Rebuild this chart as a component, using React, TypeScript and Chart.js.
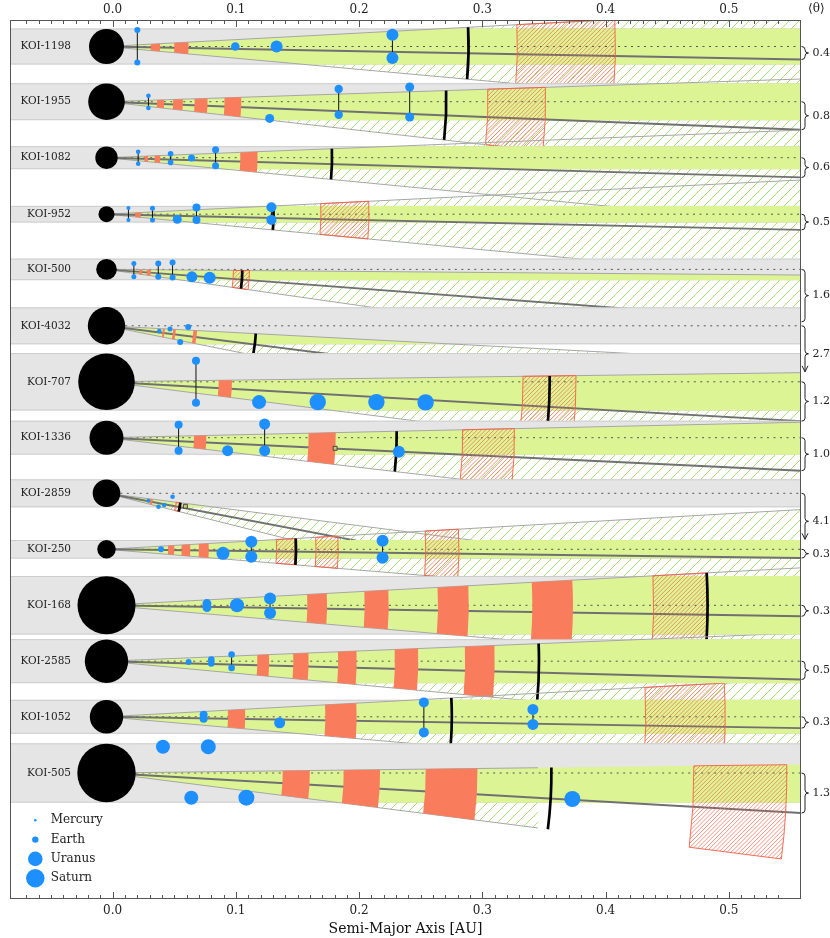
import { useEffect, useRef } from 'react';
import { Chart, registerables } from 'chart.js';

Chart.register(...registerables);

const FONT = "'DejaVu Serif', 'Liberation Serif', serif";

// ---------------- data ----------------
const SYSTEMS = ['KOI-1198', 'KOI-1955', 'KOI-1082', 'KOI-952', 'KOI-500', 'KOI-4032', 'KOI-707', 'KOI-1336', 'KOI-2859', 'KOI-250', 'KOI-168', 'KOI-2585', 'KOI-1052', 'KOI-505'];
const THETA = ['0.4', '0.8', '0.6', '0.5', '1.6', '2.7', '1.2', '1.0', '4.1', '0.3', '0.3', '0.5', '0.3', '1.3'];
const STAR_SIZE = [17.5, 18.3, 11.2, 8, 10.3, 18.7, 28.3, 17, 13.8, 9.2, 29, 21.7, 16.7, 29.2];
const PLANE_TILT = [23.1, 49.7, 35, 27.9, 93, 156, 69.8, 58.6, 234, 15.5, 19.5, 32.5, 20.1, 71];
const PLANE_SPREAD = [88.6, 90, 84, 88.6, 83, 91, 86, 86, 76, 86, 86, 82.5, 87.4, 86];
const WEDGE_REACH: (number | null)[] = [null, null, null, null, null, null, null, null, null, null, null, null, null, 0.345];

// planets: [semi-major axis AU, vertical offset, size]
const PLANETS: number[][][] = [
  [[0.020, -16.5, 3], [0.020, 16, 3], [0.0995, 0, 4.3], [0.133, 0, 6], [0.227, -11.7, 6], [0.227, 11.6, 6]],
  [[0.029, -6, 2.3], [0.029, 6.3, 2.3], [0.1274, 16.7, 4.5], [0.1834, -12.7, 4.2], [0.1834, 13, 4.2], [0.241, -14.7, 4.5], [0.241, 15.3, 4.5]],
  [[0.0207, -6, 2.3], [0.0207, 6, 2.3], [0.047, -4, 2.8], [0.047, 4.7, 2.8], [0.064, 0.3, 3.5], [0.0835, -8, 3.5], [0.0835, 8, 3.5]],
  [[0.0128, -6.3, 2], [0.0128, 5.7, 2], [0.0323, -6, 2.5], [0.0323, 5.7, 2.5], [0.0524, 5, 4.5], [0.068, -6.6, 4], [0.068, 5.7, 4], [0.1288, -7, 5], [0.1288, 5.7, 5]],
  [[0.0172, -6, 2.5], [0.0172, 7.4, 2.5], [0.037, -6, 3], [0.037, 7.4, 3], [0.0486, -7, 3], [0.0486, 8, 3], [0.0643, 7.4, 5.5], [0.0787, 8.4, 6]],
  [[0.0378, 5.3, 2.3], [0.0465, 3.3, 2.5], [0.0548, 16.3, 3], [0.0613, 1.3, 3]],
  [[0.0676, -21, 4], [0.0676, 21, 4], [0.1188, 20.3, 7], [0.1664, 20.3, 8.2], [0.214, 20.3, 8.2], [0.2539, 20.6, 8.2]],
  [[0.0535, -13, 4], [0.0535, 13, 4], [0.0933, 13, 5.5], [0.1233, -13.7, 5.5], [0.1233, 13, 5.5], [0.2322, 14, 6]],
  [[0.029, 7.4, 2], [0.0372, 13.4, 2.3], [0.0418, 11.7, 2.3], [0.0486, 3.4, 2.3]],
  [[0.0392, 0, 3], [0.0895, 4, 6.5], [0.1125, -7.6, 6], [0.1125, 7.4, 6], [0.219, -8.6, 6], [0.219, 8.4, 6]],
  [[0.0765, -1.7, 4.5], [0.0765, 2.3, 4.5], [0.1009, 0, 7], [0.1277, -6.7, 6], [0.1277, 7.7, 6]],
  [[0.0616, 0.7, 3], [0.080, -1.7, 3.3], [0.080, 2.3, 3.3], [0.0965, -6.7, 3.3], [0.0965, 6.7, 3.3]],
  [[0.0738, -2, 4], [0.0738, 2, 4], [0.1355, 6, 5.5], [0.2525, -14.4, 5], [0.2525, 15.6, 5], [0.341, -7.4, 5.5], [0.341, 7.6, 5.5]],
  [[0.0408, -26.3, 7], [0.0776, -26.3, 7.5], [0.0638, 24.7, 7], [0.1085, 24.7, 8], [0.373, 26, 8]],
];

// solid salmon zones [a1, a2]
const SOLID_ZONES: number[][][] = [
  [[0.031, 0.0385], [0.050, 0.0616]],
  [[0.036, 0.0418], [0.0491, 0.057], [0.0665, 0.077], [0.0908, 0.1044]],
  [[0.0258, 0.0288], [0.034, 0.0386], [0.1036, 0.1176]],
  [[0.0183, 0.0229]],
  [[0.0215, 0.0242], [0.0278, 0.031]],
  [[0.0408, 0.0424], [0.0491, 0.0513], [0.0656, 0.0686]],
  [[0.086, 0.0968]],
  [[0.066, 0.076], [0.159, 0.181]],
  [[0.031, 0.033]],
  [[0.045, 0.050], [0.056, 0.063], [0.070, 0.078]],
  [[0.158, 0.174], [0.2045, 0.224], [0.264, 0.289], [0.3405, 0.3735]],
  [[0.1174, 0.127], [0.1466, 0.159], [0.183, 0.198], [0.229, 0.248], [0.286, 0.310]],
  [[0.0936, 0.1076], [0.1726, 0.198]],
  [[0.138, 0.160], [0.1875, 0.217], [0.254, 0.296]],
];

// hatched red zones [a1, a2]
const HATCHED_ZONES: number[][][] = [
  [[0.3284, 0.408]],
  [[0.3045, 0.3513]],
  [],
  [[0.169, 0.208]],
  [[0.098, 0.111]],
  [],
  [[0.333, 0.376]],
  [[0.284, 0.326]],
  [[0.052, 0.056]],
  [[0.133, 0.148], [0.165, 0.183], [0.254, 0.281]],
  [[0.439, 0.483]],
  [],
  [[0.4326, 0.497]],
  [[0.4716, 0.547]],
];

const OUTER_LIMIT = [0.2888, 0.2707, 0.178, 0.1306, 0.1052, 0.1163, 0.3546, 0.2305, 0.0554, 0.1488, 0.4827, 0.3459, 0.2752, 0.356];

// candidate markers [system index, a, offset]
const CANDIDATES = [[7, 0.1805, 10.6], [8, 0.059, 13]];

const TICK_LABELS = ['0.0', '0.1', '0.2', '0.3', '0.4', '0.5'];
const LEGEND_NAMES = ['Mercury', 'Earth', 'Uranus', 'Saturn'];
const LEGEND_SIZES = [1.3, 3.2, 7.3, 9.2];

// ---------------- layout ----------------
const ROW_CENTER = [26.5, 81.7, 137.7, 194.2, 249.4, 305.8, 361.8, 417.7, 473.3, 529.3, 585.3, 641.2, 696.8, 753];
const BAND_HALF = [18, 18.5, 11.5, 8.3, 10.8, 18.5, 28.7, 17, 14, 9.3, 29.3, 22, 17, 29.7];
const STAR_A = -0.005;
const X_MIN = -0.0833;
const X_MAX = 0.5585;
const TOP_AXIS_H = 20;
const BOTTOM_AXIS_H = 39;

const GREEN = '#ddf495';
const SALMON = '#f97c5c';
const BAND = '#e5e5e5';
const BLUE = '#1e8fff';
const GREEN_HATCH = '#9fdc6e';
const RED_HATCH = 'rgba(245,95,70,0.9)';

function tickCb(v: number | string) {
  const val = Number(v);
  const k = Math.round(val * 10);
  if (Math.abs(val * 10 - k) < 1e-6 && k >= 0 && k < TICK_LABELS.length) return TICK_LABELS[k];
  return '';
}

function hatch(ctx: CanvasRenderingContext2D, x0: number, y0: number, x1: number, y1: number, spacing: number, color: string, lw: number) {
  ctx.strokeStyle = color;
  ctx.lineWidth = lw;
  ctx.beginPath();
  const kStart = Math.floor((x0 + y0) / spacing) * spacing;
  for (let k = kStart; k <= x1 + y1; k += spacing) {
    ctx.moveTo(k - y1, y1);
    ctx.lineTo(k - y0, y0);
  }
  ctx.stroke();
}

function wedgePath(ctx: CanvasRenderingContext2D, cx: number, cy: number, su: number, sl: number, xR: number) {
  ctx.beginPath();
  ctx.moveTo(cx, cy);
  ctx.lineTo(xR, cy + su * (xR - cx));
  ctx.lineTo(xR, cy + sl * (xR - cx));
  ctx.closePath();
}

function sectorPath(ctx: CanvasRenderingContext2D, cx: number, cy: number, r1: number, r2: number, a1: number, a2: number) {
  ctx.beginPath();
  ctx.arc(cx, cy, r2, a1, a2, false);
  ctx.arc(cx, cy, r1, a2, a1, true);
  ctx.closePath();
}

function clipRect(ctx: CanvasRenderingContext2D, x: number, y: number, w: number, h: number) {
  ctx.beginPath();
  ctx.rect(x, y, w, h);
  ctx.clip();
}

function rowGeometry(chart: any) {
  const xs = chart.scales.x;
  const ys = chart.scales.y;
  const ca = chart.chartArea;
  const k = (ys.getPixelForValue(1) - ys.getPixelForValue(0)) / (xs.getPixelForValue(1) - xs.getPixelForValue(0));
  const cx = xs.getPixelForValue(STAR_A);
  const rows = SYSTEMS.map((_, i) => {
    const cy = ys.getPixelForValue(ROW_CENTER[i]);
    const bt = ys.getPixelForValue(ROW_CENTER[i] - BAND_HALF[i]);
    const bb = ys.getPixelForValue(ROW_CENTER[i] + BAND_HALF[i]);
    const m = PLANE_TILT[i] * k;
    const w = PLANE_SPREAD[i] * k;
    return { cy, bt, bb, m, su: m - w, sl: m + w };
  });
  return { xs, ys, ca, cx, rows };
}

const backgroundPlugin = {
  id: 'koiBackground',
  beforeDatasetsDraw(chart: any) {
    const ctx: CanvasRenderingContext2D = chart.ctx;
    const { xs, ys, ca, cx, rows } = rowGeometry(chart);
    const n = rows.length;
    ctx.save();
    // gray bands
    rows.forEach((r) => {
      ctx.fillStyle = BAND;
      ctx.fillRect(ca.left, r.bt, ca.right - ca.left, r.bb - r.bt);
      ctx.strokeStyle = '#cdcdcd';
      ctx.lineWidth = 1;
      ctx.beginPath();
      ctx.moveTo(ca.left, r.bt + 0.5);
      ctx.lineTo(ca.right, r.bt + 0.5);
      ctx.moveTo(ca.left, r.bb - 0.5);
      ctx.lineTo(ca.right, r.bb - 0.5);
      ctx.stroke();
    });

    rows.forEach((r, i) => {
      const slotTop = i === 0 ? ca.top : rows[i - 1].bb;
      const slotBot = i === n - 1 ? ca.bottom : rows[i + 1].bt;
      const sw = ca.right - ca.left;
      const xR = ca.right;
      const reach = WEDGE_REACH[i];
      const xReach = reach != null ? xs.getPixelForValue(reach) : xR;
      const aU = Math.atan(r.su);
      const aL = Math.atan(r.sl);

      // hatched wedge outside band
      ctx.save();
      clipRect(ctx, ca.left, slotTop, sw, slotBot - slotTop);
      wedgePath(ctx, cx, r.cy, r.su, r.sl, xReach);
      ctx.clip();
      hatch(ctx, ca.left, slotTop, ca.right, slotBot, 10, GREEN_HATCH, 0.9);
      ctx.restore();

      // solid green inside band
      ctx.save();
      clipRect(ctx, ca.left, r.bt, sw, r.bb - r.bt);
      wedgePath(ctx, cx, r.cy, r.su, r.sl, xR);
      ctx.fillStyle = GREEN;
      ctx.fill();
      ctx.restore();

      ctx.save();
      clipRect(ctx, ca.left, slotTop, sw, slotBot - slotTop);
      // line of sight (dotted)
      ctx.setLineDash([2, 4.5]);
      ctx.strokeStyle = '#555';
      ctx.lineWidth = 1;
      ctx.beginPath();
      ctx.moveTo(cx + STAR_SIZE[i], r.cy);
      ctx.lineTo(xR, r.cy);
      ctx.stroke();
      ctx.setLineDash([]);
      // wedge boundaries
      ctx.strokeStyle = '#a6a6a6';
      ctx.lineWidth = 1;
      ctx.beginPath();
      ctx.moveTo(cx, r.cy);
      ctx.lineTo(xReach, r.cy + r.su * (xReach - cx));
      ctx.moveTo(cx, r.cy);
      ctx.lineTo(xReach, r.cy + r.sl * (xReach - cx));
      ctx.stroke();
      // mid plane
      ctx.strokeStyle = '#707070';
      ctx.lineWidth = 1.9;
      ctx.beginPath();
      ctx.moveTo(cx, r.cy);
      ctx.lineTo(xR, r.cy + r.m * (xR - cx));
      ctx.stroke();

      // solid salmon zones
      ctx.fillStyle = SALMON;
      SOLID_ZONES[i].forEach(([a1, a2]) => {
        sectorPath(ctx, cx, r.cy, xs.getPixelForValue(a1) - cx, xs.getPixelForValue(a2) - cx, aU, aL);
        ctx.fill();
      });

      // hatched red zones
      HATCHED_ZONES[i].forEach(([a1, a2]) => {
        const r1 = xs.getPixelForValue(a1) - cx;
        const r2 = xs.getPixelForValue(a2) - cx;
        ctx.save();
        sectorPath(ctx, cx, r.cy, r1, r2, aU, aL);
        ctx.clip();
        hatch(ctx, ca.left, slotTop, ca.right, slotBot, 4.2, RED_HATCH, 0.75);
        ctx.restore();
        sectorPath(ctx, cx, r.cy, r1, r2, aU, aL);
        ctx.strokeStyle = RED_HATCH;
        ctx.lineWidth = 1;
        ctx.stroke();
      });

      // outer limit arc
      ctx.strokeStyle = '#000';
      ctx.lineWidth = 2.7;
      ctx.beginPath();
      ctx.arc(cx, r.cy, xs.getPixelForValue(OUTER_LIMIT[i]) - cx, aU, aL);
      ctx.stroke();
      ctx.restore();

      // connectors between planets sharing an orbit
      const groups: Record<string, number[]> = {};
      PLANETS[i].forEach(([a, dy]) => {
        const key = a.toFixed(5);
        (groups[key] = groups[key] || []).push(dy);
      });
      ctx.strokeStyle = '#111';
      ctx.lineWidth = 1;
      Object.keys(groups).forEach((key) => {
        const g = groups[key];
        if (g.length < 2) return;
        const x = xs.getPixelForValue(Number(key));
        ctx.beginPath();
        ctx.moveTo(x, ys.getPixelForValue(ROW_CENTER[i] + Math.min(...g)));
        ctx.lineTo(x, ys.getPixelForValue(ROW_CENTER[i] + Math.max(...g)));
        ctx.stroke();
      });
    });
    ctx.restore();
  },
  afterDraw(chart: any) {
    const ctx: CanvasRenderingContext2D = chart.ctx;
    const { xs, ca, cx, rows } = rowGeometry(chart);
    ctx.save();
    // frame
    ctx.strokeStyle = '#555';
    ctx.lineWidth = 1;
    ctx.strokeRect(ca.left + 0.5, ca.top + 0.5, ca.right - ca.left - 1, ca.bottom - ca.top - 1);
    // inward ticks
    ctx.beginPath();
    xs.ticks.forEach((t: any) => {
      const v = t.value;
      if (Math.abs(v * 100 - Math.round(v * 100)) > 1e-6) return;
      const major = Math.abs(v * 10 - Math.round(v * 10)) < 1e-6;
      const len = major ? 7 : 4;
      const x = Math.round(xs.getPixelForValue(v)) + 0.5;
      ctx.moveTo(x, ca.top);
      ctx.lineTo(x, ca.top + len);
      ctx.moveTo(x, ca.bottom);
      ctx.lineTo(x, ca.bottom - len);
    });
    ctx.stroke();

    // row labels
    ctx.fillStyle = '#222';
    ctx.font = `10.5px ${FONT}`;
    ctx.textAlign = 'right';
    ctx.textBaseline = 'middle';
    rows.forEach((r, i) => ctx.fillText(SYSTEMS[i], ca.left + 61, r.cy));

    // braces and mean inclination labels
    ctx.strokeStyle = '#222';
    ctx.lineWidth = 1;
    ctx.font = `11px ${FONT}`;
    ctx.textAlign = 'left';
    rows.forEach((r, i) => {
      const x0 = ca.right + 0.5;
      const sx = x0 + 3.5;
      const tipX = x0 + 7;
      const y1 = r.cy;
      let y2 = r.cy + r.m * (ca.right - cx);
      const arrow = y2 - y1 > 60;
      let ym: number;
      ctx.beginPath();
      if (!arrow) {
        ym = (y1 + y2) / 2;
        const c = Math.min(3, (y2 - y1) / 4);
        ctx.moveTo(x0, y1);
        ctx.quadraticCurveTo(sx, y1, sx, y1 + c);
        ctx.lineTo(sx, ym - c);
        ctx.quadraticCurveTo(sx, ym, tipX, ym);
        ctx.quadraticCurveTo(sx, ym, sx, ym + c);
        ctx.lineTo(sx, y2 - c);
        ctx.quadraticCurveTo(sx, y2, x0, y2);
      } else {
        ym = y1 + 28;
        y2 = y1 + 46;
        const c = 3;
        ctx.moveTo(x0, y1);
        ctx.quadraticCurveTo(sx, y1, sx, y1 + c);
        ctx.lineTo(sx, ym - c);
        ctx.quadraticCurveTo(sx, ym, tipX, ym);
        ctx.quadraticCurveTo(sx, ym, sx, ym + c);
        ctx.lineTo(sx, y2);
        ctx.moveTo(sx - 3, y2 - 6);
        ctx.lineTo(sx, y2);
        ctx.lineTo(sx + 3, y2 - 6);
      }
      ctx.stroke();
      ctx.fillText(THETA[i], tipX + 4, ym);
    });
    ctx.font = `12px ${FONT}`;
    ctx.fillText('\u27E8\u03B8\u27E9', ca.right + 7, ca.top - 11);

    // legend
    LEGEND_NAMES.forEach((name, j) => {
      const y = ca.bottom - 78.7 + j * 19.3;
      ctx.fillStyle = BLUE;
      ctx.beginPath();
      ctx.arc(ca.left + 25.3, y, LEGEND_SIZES[j], 0, Math.PI * 2);
      ctx.fill();
      ctx.fillStyle = '#222';
      ctx.font = `12px ${FONT}`;
      ctx.fillText(name, ca.left + 40.7, y);
    });
    ctx.restore();
  },
};

export default function App() {
  const ref = useRef<HTMLCanvasElement | null>(null);
  useEffect(() => {
    if (!ref.current) return;
    const planetPts: any[] = [];
    PLANETS.forEach((list, i) => list.forEach(([a, dy, s]) => planetPts.push({ x: a, y: ROW_CENTER[i] + dy, r: s })));
    const starPts = SYSTEMS.map((_, i) => ({ x: STAR_A, y: ROW_CENTER[i], r: STAR_SIZE[i] }));
    const candPts = CANDIDATES.map(([i, a, dy]) => ({ x: a, y: ROW_CENTER[i] + dy, r: 2.8 }));

    const axisTicks = (pad: number) => ({
      stepSize: 0.01,
      autoSkip: false,
      maxRotation: 0,
      minRotation: 0,
      padding: pad,
      color: '#222',
      font: { family: FONT, size: 12 },
      callback: tickCb,
    });

    const fitTo = (h: number) => (scale: any) => {
      scale.height = h;
      scale.paddingLeft = 0;
      scale.paddingRight = 0;
    };

    const chart = new Chart(ref.current, {
      type: 'scatter',
      data: {
        datasets: [
          { label: 'candidates', data: candPts, pointStyle: 'rect', backgroundColor: '#cfc777', borderColor: '#444', borderWidth: 1, pointRadius: (c: any) => c.raw.r, order: 0 } as any,
          { label: 'planets', data: planetPts, backgroundColor: BLUE, borderWidth: 0, pointRadius: (c: any) => c.raw.r, pointHoverRadius: (c: any) => c.raw.r, order: 1 } as any,
          { label: 'stars', data: starPts, backgroundColor: '#000', borderWidth: 0, pointRadius: (c: any) => c.raw.r, pointHoverRadius: (c: any) => c.raw.r, order: 2 } as any,
        ],
      },
      options: {
        animation: false,
        responsive: false,
        events: [],
        layout: { autoPadding: false, padding: { left: 10, right: 29, top: 0, bottom: 0 } },
        plugins: { legend: { display: false }, tooltip: { enabled: false } },
        scales: {
          x: {
            type: 'linear',
            position: 'bottom',
            min: X_MIN,
            max: X_MAX,
            grid: { display: false, drawTicks: false },
            border: { display: false },
            ticks: axisTicks(5) as any,
            title: { display: true, text: 'Semi-Major Axis [AU]', color: '#111', font: { family: FONT, size: 14 }, padding: { top: 0, bottom: 0 } },
            afterFit: fitTo(BOTTOM_AXIS_H),
          } as any,
          x2: {
            type: 'linear',
            axis: 'x',
            position: 'top',
            min: X_MIN,
            max: X_MAX,
            grid: { display: false, drawTicks: false },
            border: { display: false },
            ticks: axisTicks(3) as any,
            afterFit: fitTo(TOP_AXIS_H),
          } as any,
          y: { type: 'linear', min: 0, max: 879, reverse: true, display: false },
        },
      },
      plugins: [backgroundPlugin],
    });
    return () => chart.destroy();
  }, []);

  return (
    <div style={{ position: 'absolute', left: 0, top: 0, width: 830, height: 938, background: '#fff' }}>
      <canvas ref={ref} width={830} height={938} style={{ display: 'block', width: 830, height: 938 }} />
    </div>
  );
}
